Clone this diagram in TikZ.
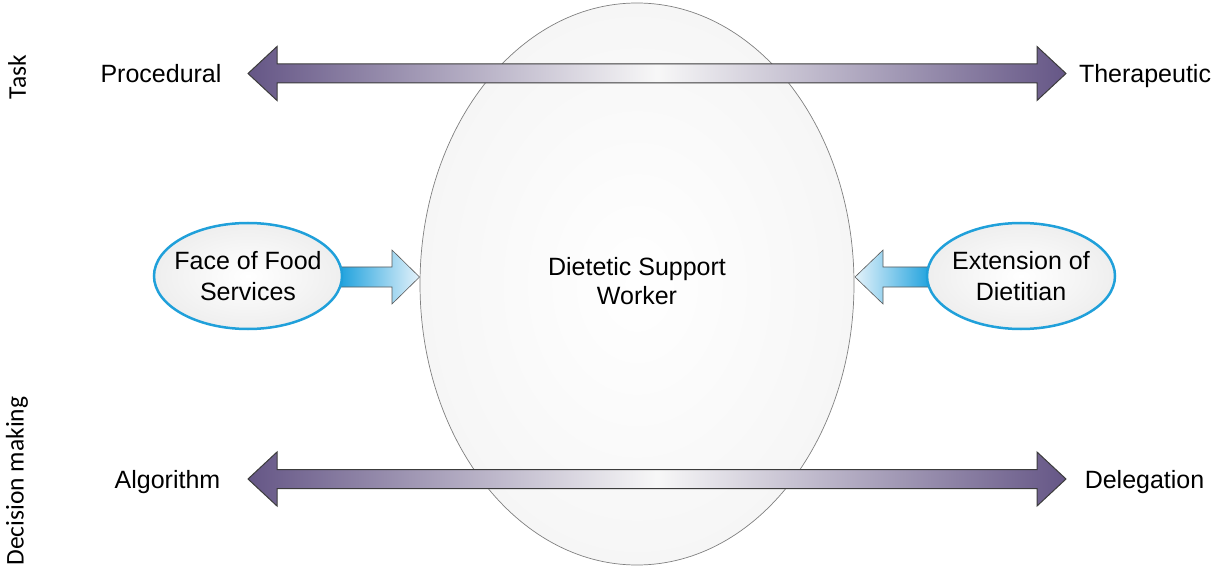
\documentclass[tikz,border=0pt]{standalone}
\usepackage{fontspec}
\setmainfont{Liberation Sans}
\newfontfamily\calibfont{Carlito}
\usetikzlibrary{shapes.geometric}
\definecolor{purp}{RGB}{101,86,134}
\definecolor{arrowedge}{RGB}{60,60,60}
\definecolor{cyanring}{RGB}{32,160,218}
\definecolor{bluedark}{RGB}{22,158,220}
\definecolor{bluelight}{RGB}{228,242,250}
\begin{document}
\begin{tikzpicture}[x=1pt,y=-1pt,
  lbl/.style={font=\fontsize{25pt}{31pt}\selectfont, inner sep=0pt, anchor=base},
  side/.style={font=\calibfont\fontsize{25.5pt}{28pt}\selectfont, rotate=90, inner sep=0pt},
  bigoval/.style={ellipse, draw=gray, line width=0.7pt, inner color=white, outer color=gray!7,
     minimum width=434pt, minimum height=562pt, inner sep=0pt, align=center,
     font=\fontsize{25pt}{30pt}\selectfont},
  smalloval/.style={ellipse, draw=cyanring, line width=2.5pt, inner color=white, outer color=gray!13,
     minimum width=188pt, minimum height=106pt, inner xsep=-14pt, inner ysep=0pt, align=center,
     font=\fontsize{25pt}{31pt}\selectfont},
  dblarrow/.style={draw=arrowedge, line width=1pt, left color=purp, right color=purp, middle color=gray!6},
  bluearrow/.style={draw=gray!70!black, line width=0.6pt},
]
\useasboundingbox (0,0) rectangle (1212,569);

% central oval
\node[bigoval] (dsw) at (637,284) {\raisebox{3pt}{\begin{tabular}{@{}c@{}}Dietetic Support\\[-1pt]Worker\end{tabular}}};

% double arrows
\foreach \yy/\nm in {73.5/top, 479/bot}{
  \begin{scope}[shift={(0,\yy)}]
    \coordinate (\nm L) at (248,0);
    \coordinate (\nm R) at (1066,0);
    \shade[dblarrow] (\nm L) -- (277,-27) -- (277,-9.5) -- (1037,-9.5) -- (1037,-27)
      -- (\nm R) -- (1037,27) -- (1037,9.5) -- (277,9.5) -- (277,27) -- cycle;
  \end{scope}
}

% blue block arrows
\coordinate (ltip) at (419.5,277);
\coordinate (rtip) at (855,277);
\shade[bluearrow, left color=bluedark, right color=bluelight]
  (336,267) -- (392,267) -- (392,250) -- (ltip) -- (392,304) -- (392,287) -- (336,287) -- cycle;
\shade[bluearrow, left color=bluelight, right color=bluedark]
  (934,267) -- (883,267) -- (883,250) -- (rtip) -- (883,304) -- (883,287) -- (934,287) -- cycle;

% small ovals
\node[smalloval] (face) at (248,276) {Face of Food\\Services};
\node[smalloval] (ext) at (1021,276) {Extension of\\Dietitian};

% labels
\node[lbl] (proc) at (161,82.5) {Procedural};
\node[lbl] (ther) at (1145,82.5) {Therapeutic};
\node[lbl] (algo) at (167.5,488) {Algorithm};
\node[lbl] (deleg) at (1144.5,488) {Delegation};

\node[side] (task) at (17,77) {Task};
\node[side] (decis) at (17,481) {Decision making};
\end{tikzpicture}
\end{document}
